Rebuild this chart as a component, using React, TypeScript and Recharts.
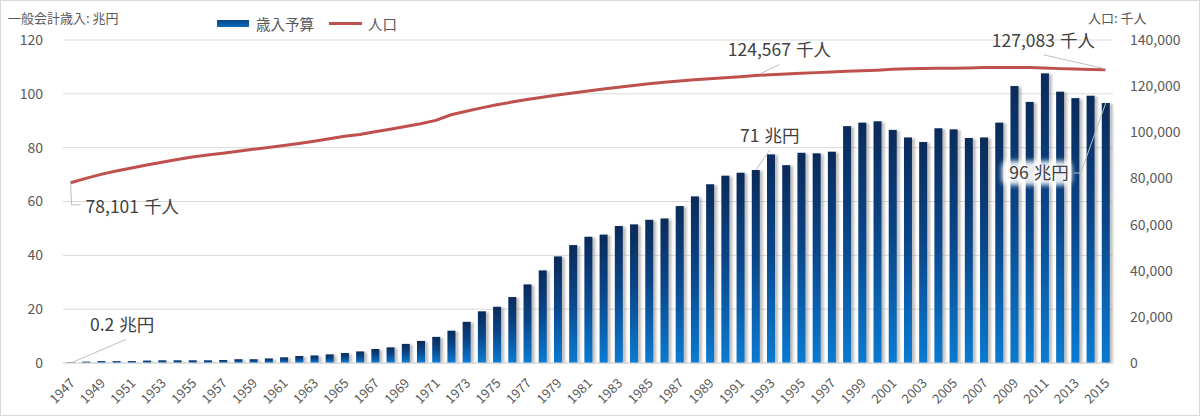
import { ComposedChart, Bar, Line, XAxis, YAxis, CartesianGrid } from "recharts";

const years = [
  "1947", "1948", "1949", "1950", "1951", "1952", "1953", "1954", "1955", "1956",
  "1957", "1958", "1959", "1960", "1961", "1962", "1963", "1964", "1965", "1966",
  "1967", "1968", "1969", "1970", "1971", "1972", "1973", "1974", "1975", "1976",
  "1977", "1978", "1979", "1980", "1981", "1982", "1983", "1984", "1985", "1986",
  "1987", "1988", "1989", "1990", "1991", "1992", "1993", "1994", "1995", "1996",
  "1997", "1998", "1999", "2000", "2001", "2002", "2003", "2004", "2005", "2006",
  "2007", "2008", "2009", "2010", "2011", "2012", "2013", "2014", "2015",
];

// 歳入予算 (兆円)
const budget = [
  0.2, 0.5, 0.7, 0.7, 0.7, 0.9, 1.0, 1.0, 1.0, 1.0,
  1.1, 1.4, 1.4, 1.7, 2.1, 2.6, 2.8, 3.2, 3.7, 4.3,
  5.2, 5.8, 7.1, 8.2, 9.7, 12.0, 15.3, 19.2, 20.9, 24.5,
  29.2, 34.4, 39.6, 43.8, 46.9, 47.7, 50.9, 51.5, 53.2, 53.7,
  58.3, 61.9, 66.4, 69.6, 70.7, 71.7, 77.5, 73.5, 78.1, 77.9,
  78.5, 88.0, 89.3, 89.8, 86.6, 83.8, 82.1, 87.2, 86.8, 83.6,
  83.8, 89.3, 102.9, 97.0, 107.6, 100.8, 98.4, 99.3, 96.6,
];

// 人口 (千人)
const population = [
  78101, 80002, 81773, 83200, 84541, 85808, 86981, 88239, 89276, 90172,
  90928, 91767, 92641, 93419, 94287, 95181, 96156, 97182, 98275, 99036,
  100196, 101331, 102536, 103720, 105145, 107595, 109104, 110573, 111940, 113094,
  114165, 115190, 116155, 117060, 117902, 118728, 119536, 120305, 121049, 121660,
  122239, 122745, 123205, 123611, 124101, 124567, 124938, 125265, 125570, 125859,
  126157, 126472, 126667, 126926, 127316, 127486, 127694, 127787, 127768, 127901,
  128033, 128084, 128032, 128057, 127834, 127593, 127414, 127237, 127083,
];

const leftTicks = [0, 20, 40, 60, 80, 100, 120];
const rightTicks = [0, 20000, 40000, 60000, 80000, 100000, 120000, 140000];

const budgetNoteYears = ["1947", "1992", "2015"];
const budgetNoteTexts = ["0.2 兆円", "71 兆円", "96 兆円"];
const popNoteYears = ["1947", "1992", "2015"];
const popNoteTexts = ["78,101 千人", "124,567 千人", "127,083 千人"];

const data = years.map((year, i) => ({
  year,
  budget: budget[i],
  pop: population[i],
}));

const FONT = '"Noto Sans CJK JP", "Noto Sans", sans-serif';
const GRAY = "#595959";
const NOTE = "#404040";
const RED = "#C0504D";
const LEADER = "#bfbfbf";

const BarShape = (props: any) => {
  const { x, y, width, height } = props;
  if (!height || height <= 0) return null;
  return (
    <g>
      <rect
        x={x + 2}
        y={y + 1}
        width={width + 1}
        height={Math.max(height - 1, 0)}
        fill="#8c8c8c"
        opacity={0.55}
        filter="url(#barShadow)"
      />
      <rect x={x} y={y} width={width} height={height} fill="url(#barGrad)" />
    </g>
  );
};

const XTick = (props: any) => {
  const { x, y, payload } = props;
  return (
    <text
      x={x + 5}
      y={y + 13}
      transform={`rotate(-45, ${x + 5}, ${y + 13})`}
      textAnchor="end"
      fontSize={13}
      fill={GRAY}
      fontFamily={FONT}
    >
      {payload.value}
    </text>
  );
};

const noteText = (x: number, y: number, text: string, anchor: string) => (
  <text x={x} y={y} textAnchor={anchor as any} fontSize={17.5} fill={NOTE} fontFamily={FONT}>
    {text.replace(" ", " \u200A")}
  </text>
);

const renderBudgetNote = (props: any) => {
  const { x, y, width, index } = props;
  const k = budgetNoteYears.indexOf(years[index]);
  if (k < 0) return null;
  const cx = x + width / 2;
  const text = budgetNoteTexts[k];
  if (k === 0) {
    return (
      <g key={`bn${index}`}>
        <line x1={cx + 1} y1={y} x2={cx + 55} y2={y - 23} stroke={LEADER} strokeWidth={1} />
        {noteText(cx + 19, y - 31, text, "start")}
      </g>
    );
  }
  if (k === 1) {
    return (
      <g key={`bn${index}`}>
        <line x1={cx} y1={y} x2={cx + 14} y2={y - 20} stroke={LEADER} strokeWidth={1} />
        {noteText(cx + 14, y - 28, text, "middle")}
      </g>
    );
  }
  return (
    <g key={`bn${index}`}>
      <polyline
        points={`${cx},${y} ${cx - 25},${y + 70} ${cx - 32},${y + 70}`}
        fill="none"
        stroke={LEADER}
        strokeWidth={1}
      />
      <rect
        x={cx - 104}
        y={y + 58}
        width={70}
        height={24}
        rx={6}
        fill="#ffffff"
        opacity={0.92}
        filter="url(#glow)"
      />
      {noteText(cx - 37, y + 76, text, "end")}
    </g>
  );
};

const renderPopNote = (props: any) => {
  const { x, y, index } = props;
  const k = popNoteYears.indexOf(years[index]);
  if (k < 0) return null;
  const text = popNoteTexts[k];
  if (k === 0) {
    return (
      <g key={`pn${index}`}>
        <polyline
          points={`${x},${y} ${x + 1},${y + 22} ${x + 10},${y + 22}`}
          fill="none"
          stroke={LEADER}
          strokeWidth={1}
        />
        {noteText(x + 15, y + 30, text, "start")}
      </g>
    );
  }
  if (k === 1) {
    return (
      <g key={`pn${index}`}>
        <line x1={x + 5} y1={y - 2} x2={x + 24} y2={y - 11} stroke={LEADER} strokeWidth={1} />
        {noteText(x + 24, y - 20, text, "middle")}
      </g>
    );
  }
  return (
    <g key={`pn${index}`}>
      <line x1={x} y1={y - 1} x2={x - 62} y2={y - 15} stroke={LEADER} strokeWidth={1} />
      {noteText(x - 62, y - 23, text, "middle")}
    </g>
  );
};

export default function App() {
  return (
    <div
      style={{
        position: "absolute",
        left: 0,
        top: 0,
        width: 1200,
        height: 416,
        background: "#ffffff",
        fontFamily: FONT,
      }}
    >
      <ComposedChart
        width={1200}
        height={416}
        data={data}
        margin={{ top: 40, right: 17, bottom: 8, left: 13 }}
      >
        <defs>
          <linearGradient id="barGrad" x1="0" y1="0" x2="0" y2="1">
            <stop offset="0%" stopColor="#0B2B5A" />
            <stop offset="45%" stopColor="#0A4588" />
            <stop offset="100%" stopColor="#0A7BD2" />
          </linearGradient>
          <filter id="barShadow" x="-50%" y="-10%" width="200%" height="120%">
            <feGaussianBlur stdDeviation="1.2" />
          </filter>
          <filter id="glow" x="-20%" y="-40%" width="140%" height="180%">
            <feGaussianBlur stdDeviation="2.5" />
          </filter>
        </defs>
        <CartesianGrid vertical={false} stroke="#d9d9d9" yAxisId="left" />
        <XAxis
          dataKey="year"
          interval={1}
          tick={<XTick />}
          tickLine={false}
          axisLine={{ stroke: "#d9d9d9" }}
          height={45}
        />
        <YAxis
          yAxisId="left"
          domain={[0, 120]}
          ticks={leftTicks}
          width={50}
          tickSize={0}
          tickMargin={20}
          axisLine={false}
          tickLine={false}
          tick={{ fontSize: 14, fill: GRAY, fontFamily: FONT }}
        />
        <YAxis
          yAxisId="right"
          orientation="right"
          domain={[0, 140000]}
          ticks={rightTicks}
          width={70}
          tickSize={0}
          tickMargin={17}
          axisLine={false}
          tickLine={false}
          tickFormatter={(v: number) => v.toLocaleString("en-US")}
          tick={{ fontSize: 14, fill: GRAY, fontFamily: FONT, textAnchor: "start" }}
        />
        <Bar
          yAxisId="left"
          dataKey="budget"
          barSize={8}
          shape={<BarShape />}
          label={renderBudgetNote}
          isAnimationActive={false}
        />
        <Line
          yAxisId="right"
          dataKey="pop"
          type="linear"
          stroke={RED}
          strokeWidth={3}
          dot={false}
          activeDot={false}
          label={renderPopNote}
          isAnimationActive={false}
        />
      </ComposedChart>

      <div style={{ position: "absolute", left: 8, top: 8, fontSize: 13, color: GRAY }}>
        一般会計歳入: 兆円
      </div>
      <div style={{ position: "absolute", left: 1088, top: 8, fontSize: 13, color: GRAY }}>
        人口: 千人
      </div>

      <div
        style={{
          position: "absolute",
          left: 217,
          top: 13,
          display: "flex",
          alignItems: "center",
          fontSize: 14.5,
          color: GRAY,
        }}
      >
        <span
          style={{
            display: "inline-block",
            width: 32,
            height: 7,
            background: "linear-gradient(#0A4588, #0A6BC0)",
            marginRight: 7,
          }}
        />
        <span>歳入予算</span>
        <span
          style={{
            display: "inline-block",
            width: 33,
            height: 3,
            background: RED,
            marginLeft: 15,
            marginRight: 6,
          }}
        />
        <span>人口</span>
      </div>

      <div
        style={{
          position: "absolute",
          left: 0,
          top: 0,
          width: 1200,
          height: 416,
          boxSizing: "border-box",
          border: "1px solid #d9d9d9",
          pointerEvents: "none",
        }}
      />
    </div>
  );
}
